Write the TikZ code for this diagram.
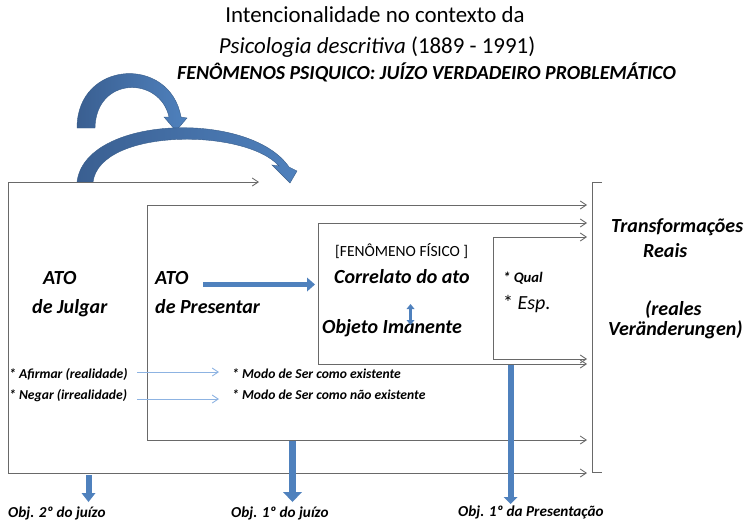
\documentclass[tikz,border=0pt]{standalone}
\usepackage{fontspec}
\setmainfont{Carlito}
\usetikzlibrary{arrows.meta}
\definecolor{blk}{RGB}{79,129,189}
\definecolor{blkdark}{RGB}{58,95,145}
\definecolor{blkedge}{RGB}{56,93,138}
\definecolor{thinb}{RGB}{141,179,226}
\definecolor{frm}{RGB}{105,105,105}
\begin{document}
\begin{tikzpicture}[x=1pt,y=-1pt,
  txt/.style={inner sep=0pt, anchor=base west},
  lbl/.style={txt, font=\bfseries\itshape\fontsize{20}{23}\selectfont},
  smalllbl/.style={txt, font=\bfseries\itshape\fontsize{13.6}{16}\selectfont},
  botlbl/.style={txt, font=\bfseries\itshape\fontsize{15.2}{18}\selectfont},
  frameline/.style={draw=frm, line width=0.9pt},
  framearrow/.style={frameline, -{Straight Barb[length=6pt,width=8pt]}},
  thinarrow/.style={draw=thinb, line width=0.9pt, -{Straight Barb[length=6pt,width=8pt]}},
  blockarrow/.style={draw=blk, line width=6pt, -{Triangle[length=9pt,width=15pt,line width=0pt]}},
  archape/.style={left color=blkdark, right color=blk, draw=blkedge, line width=0.4pt}
]
\useasboundingbox (0,0) rectangle (744,522);

% titles
\node[inner sep=0pt, anchor=base, font=\fontsize{22.9}{26}\selectfont] (t1) at (375,23) {Intencionalidade no contexto da};
\node[inner sep=0pt, anchor=base, font=\fontsize{22.9}{26}\selectfont] (t2) at (377,53) {\textit{Psicologia descritiva} (1889 - 1991)};
\node[txt, font=\bfseries\itshape\fontsize{19.9}{23}\selectfont] (t3) at (177,79) {FENÔMENOS PSIQUICO: JUÍZO VERDADEIRO PROBLEMÁTICO};

% curved block arrows
\shade[archape] (77,128) .. controls (77,60) and (170,55) .. (181,117)
   -- (187,118) -- (176,131) -- (164,117) -- (169,117)
   .. controls (160,76) and (96,76) .. (95,128) -- cycle;
\shade[archape] (77,182) .. controls (85,115) and (250,110) .. (289,167)
   -- (297,171) -- (290,183) -- (272,165) -- (279,166)
   .. controls (245,128) and (100,128) .. (93,182) -- cycle;

% frames
\coordinate (o-tl) at (8,182);
\coordinate (o-bl) at (8,473);
\coordinate (o-te) at (259,182);
\coordinate (o-be) at (587,473);
\draw[frameline] (o-tl) -- (o-bl);
\draw[framearrow] (o-tl) -- (o-te);
\draw[framearrow] (o-bl) -- (o-be);

\coordinate (f2-tl) at (147,205);
\coordinate (f2-bl) at (147,440);
\coordinate (f2-te) at (587,205);
\coordinate (f2-be) at (587,440);
\draw[frameline] (f2-tl) -- (f2-bl);
\draw[framearrow] (f2-tl) -- (f2-te);
\draw[framearrow] (f2-bl) -- (f2-be);

\coordinate (f3-tl) at (318,223);
\coordinate (f3-bl) at (318,364);
\coordinate (f3-te) at (587,223);
\coordinate (f3-be) at (587,364);
\draw[frameline] (f3-tl) -- (f3-bl);
\draw[framearrow] (f3-tl) -- (f3-te);
\draw[framearrow] (f3-bl) -- (f3-be);

\coordinate (f4-tl) at (493,237);
\coordinate (f4-bl) at (493,359);
\coordinate (f4-te) at (587,237);
\coordinate (f4-be) at (587,359);
\draw[frameline] (f4-tl) -- (f4-bl);
\draw[framearrow] (f4-tl) -- (f4-te);
\draw[framearrow] (f4-bl) -- (f4-be);

% right bracket
\coordinate (br-t) at (592,182);
\coordinate (br-b) at (592,472);
\draw[frameline] ([xshift=10pt]br-t) -- (br-t) -- (br-b) -- ([xshift=10pt]br-b);

% labels
\node[lbl] (atoj) at (43,284) {ATO};
\node[lbl] (dej) at (32,313) {de Julgar};
\node[lbl] (atop) at (155,284) {ATO};
\node[lbl] (dep) at (155,313) {de Presentar};
\node[txt, font=\fontsize{15.5}{18}\selectfont] (fen) at (335,256) {[FENÔMENO FÍSICO ]};
\node[lbl] (corr) at (334,283) {Correlato do ato};
\node[lbl] (obj) at (322,333) {Objeto Imanente};
\node[txt, font=\bfseries\itshape\fontsize{14.6}{17}\selectfont] (qual) at (503,282) {* Qual};
\node[txt, font=\fontsize{20}{23}\selectfont] (esp) at (503,309) {* \textit{Esp.}};
\node[lbl] (transf) at (611,232) {Transformações};
\node[lbl] (reais) at (643,257) {Reais};
\node[lbl] (reales) at (645,315) {(reales};
\node[lbl] (veran) at (608,335) {Veränderungen)};
\node[smalllbl] (afirm) at (9,378) {* Afirmar (realidade)};
\node[smalllbl] (negar) at (9,399) {* Negar (irrealidade)};
\node[smalllbl] (modo1) at (232,378) {* Modo de Ser como existente};
\node[smalllbl] (modo2) at (232,399) {* Modo de Ser como não existente};
\node[botlbl] (ob2) at (8,517) {Obj. 2º do juízo};
\node[botlbl] (ob1) at (231,517) {Obj. 1º do juízo};
\node[botlbl] (ob1p) at (458,516) {Obj. 1º da Presentação};

% thin blue arrows
\coordinate (a1s) at (137,372);
\coordinate (a1e) at (219,372);
\coordinate (a2s) at (137,399);
\coordinate (a2e) at (219,399);
\draw[thinarrow] (a1s) -- (a1e);
\draw[thinarrow] (a2s) -- (a2e);

% block arrows
\coordinate (hs) at (203,284.5);
\coordinate (he) at (315,284.5);
\draw[blockarrow, line width=5.5pt, -{Triangle[length=8pt,width=14pt,line width=0pt]}] (hs) -- (he);

\coordinate (dv-t) at (410.5,304);
\coordinate (dv-b) at (410.5,325);
\draw[draw=blk, line width=3pt, {Triangle[length=5pt,width=8pt,line width=0pt]}-{Triangle[length=5pt,width=8pt,line width=0pt]}] (dv-t) -- (dv-b);

\coordinate (v1s) at (88.5,475);
\coordinate (v1e) at (88.5,502);
\draw[blockarrow, -{Triangle[length=9pt,width=14pt,line width=0pt]}] (v1s) -- (v1e);
\coordinate (v2s) at (292.5,441);
\coordinate (v2e) at (292.5,502);
\draw[blockarrow, line width=7pt, -{Triangle[length=10pt,width=19pt,line width=0pt]}] (v2s) -- (v2e);
\coordinate (v3s) at (510.5,365);
\coordinate (v3e) at (510.5,504);
\draw[blockarrow, -{Triangle[length=7pt,width=14pt,line width=0pt]}] (v3s) -- (v3e);
\end{tikzpicture}
\end{document}
